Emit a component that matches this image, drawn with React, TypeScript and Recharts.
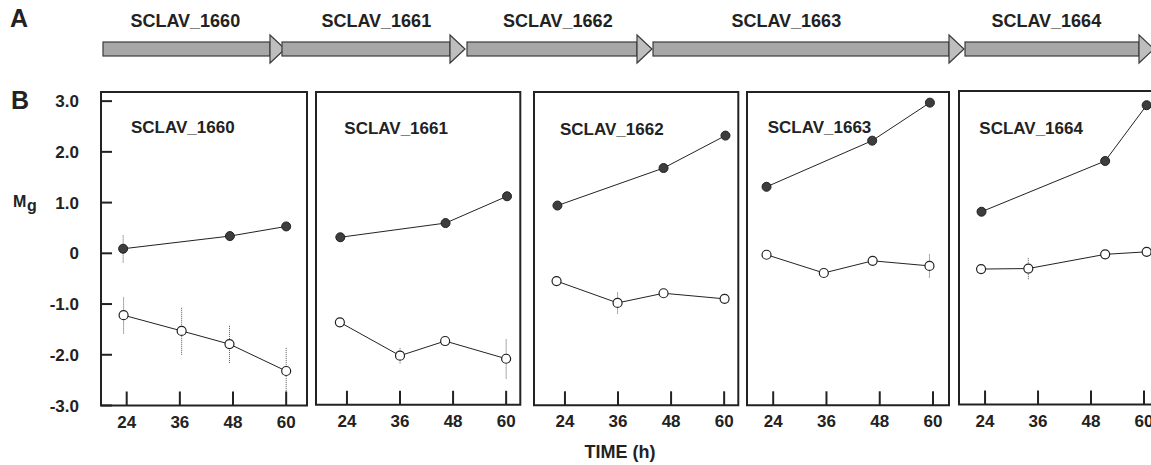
import React from 'react';
import {
  ComposedChart,
  LineChart,
  Line,
  XAxis,
  YAxis,
  ErrorBar,
  ReferenceArea,
  ReferenceLine,
} from 'recharts';

const FONT = '"Liberation Sans", Arial, Helvetica, sans-serif';
const INK = '#222';

// ---------- Panel A: gene map ----------
const geneNames = ['SCLAV_1660', 'SCLAV_1661', 'SCLAV_1662', 'SCLAV_1663', 'SCLAV_1664'];
const geneStart = [0, 1790, 3640, 5500, 8620];
const geneEnd = [1820, 3620, 5490, 8610, 10510];
const geneLabelPos = [823, 2733, 4548, 6833, 9433];

// ---------- Panel B: Mg vs time ----------
const timeTicks = [24, 36, 48, 60];
const mgTicksFull = [-3, -2, -1, 0, 1, 2, 3];
const mgTicksInner = [-2, -1, 0, 1, 2];

// filled circles
const upTime = [
  [23.2, 47.3, 60.0],
  [22.5, 46.3, 60.2],
  [22.3, 46.3, 60.3],
  [22.5, 46.3, 59.3],
  [23.2, 51.2, 60.6],
];
const upMg = [
  [0.09, 0.34, 0.53],
  [0.31, 0.59, 1.12],
  [0.94, 1.68, 2.32],
  [1.31, 2.22, 2.97],
  [0.8, 1.8, 2.9],
];
const upErr = [
  [0.27, 0, 0],
  [0, 0, 0],
  [0, 0, 0],
  [0, 0, 0],
  [0, 0, 0],
];

// open circles
const downTime = [
  [23.3, 36.4, 47.2, 60.0],
  [22.4, 36.0, 46.2, 60.0],
  [22.1, 35.9, 46.3, 60.1],
  [22.5, 35.4, 46.4, 59.2],
  [23.1, 33.8, 51.2, 60.6],
];
const downMg = [
  [-1.22, -1.53, -1.79, -2.32],
  [-1.37, -2.03, -1.74, -2.09],
  [-0.55, -0.98, -0.79, -0.9],
  [-0.03, -0.39, -0.15, -0.25],
  [-0.33, -0.32, -0.04, 0.01],
];
const downErr = [
  [0.36, 0.47, 0.37, 0.47],
  [0, 0.15, 0, 0.39],
  [0.07, 0.21, 0.06, 0.04],
  [0, 0, 0, 0.23],
  [0, 0.21, 0, 0],
];

// layout of the five frames (pixels) and their time domains
const frames = [
  { left: 101, right: 307, top: 92, bottom: 405.5, xDomain: [18.2, 64.7], yTicks: mgTicksFull, labels: true },
  { left: 315.7, right: 520, top: 91.7, bottom: 404.5, xDomain: [17.0, 63.2], yTicks: mgTicksFull, labels: false },
  { left: 534, right: 738.3, top: 91.7, bottom: 405, xDomain: [17.0, 63.2], yTicks: mgTicksInner, labels: false },
  { left: 747.3, right: 949.3, top: 91.7, bottom: 405, xDomain: [18.1, 63.6], yTicks: mgTicksInner, labels: false },
  { left: 959, right: 1163, top: 91, bottom: 404.5, xDomain: [18.1, 64.3], yTicks: mgTicksInner, labels: false },
];
const titlePos = [
  { x: 131, y: 132.5 },
  { x: 344.3, y: 133.5 },
  { x: 560, y: 134.5 },
  { x: 767.7, y: 132.5 },
  { x: 979.3, y: 133.5 },
];
const Y_DOMAIN: [number, number] = [-3, 3.18];

const fmtMg = (v: number) => (v === 0 ? '0' : v.toFixed(1));

const ArrowShape = (props: any) => {
  const { x, y, width, height } = props;
  const head = 15;
  const bodyTop = y + height * 0.25;
  const bodyH = height * 0.5;
  return (
    <g>
      <rect
        x={x}
        y={bodyTop}
        width={Math.max(0, width - head)}
        height={bodyH}
        fill="#a7a7a7"
        stroke="#3a3a3a"
        strokeWidth={1.2}
      />
      <polygon
        points={`${x + width - head},${y} ${x + width},${y + height / 2} ${x + width - head},${y + height}`}
        fill="#bebebe"
        stroke="#3a3a3a"
        strokeWidth={1.2}
      />
    </g>
  );
};

function GeneMap() {
  const data = geneNames.map((n, i) => ({ name: n, x: geneStart[i] }));
  return (
    <div style={{ position: 'absolute', left: 0, top: 0 }}>
      <ComposedChart
        width={1170}
        height={70}
        data={data}
        margin={{ top: 35, right: 7, bottom: 7, left: 103 }}
      >
        <XAxis type="number" dataKey="x" domain={[0, 10600]} allowDataOverflow hide />
        <YAxis type="number" domain={[0, 1]} allowDataOverflow hide />
        {geneNames.map((n, i) => (
          <ReferenceArea
            key={n}
            x1={geneStart[i]}
            x2={geneEnd[i]}
            y1={0}
            y2={1}
            ifOverflow="visible"
            shape={ArrowShape}
          />
        ))}
        {geneNames.map((n, i) => (
          <ReferenceLine
            key={'l' + n}
            x={geneLabelPos[i]}
            stroke="none"
            ifOverflow="visible"
            label={{
              value: n,
              position: 'top',
              offset: 8,
              fill: INK,
              fontSize: 18,
              fontWeight: 'bold',
            }}
          />
        ))}
      </ComposedChart>
    </div>
  );
}

function Panel({ i }: { i: number }) {
  const f = frames[i];
  const YW = 60;
  const MR = 10;
  const MT = 10;
  const XH = 50;
  const W = f.right - f.left + YW + MR;
  const H = f.bottom - f.top + MT + XH;
  const up = upTime[i].map((t, k) => ({ x: t, y: upMg[i][k], e: upErr[i][k] }));
  const down = downTime[i].map((t, k) => ({ x: t, y: downMg[i][k], e: downErr[i][k] }));
  return (
    <div style={{ position: 'absolute', left: f.left - YW, top: f.top - MT }}>
      <LineChart width={W} height={H} margin={{ top: MT, right: MR, bottom: 0, left: 0 }}>
        <XAxis
          type="number"
          dataKey="x"
          domain={f.xDomain}
          allowDataOverflow
          ticks={timeTicks}
          interval={0}
          height={XH}
          tickSize={-14}
          tickMargin={24}
          axisLine={false}
          tickLine={{ stroke: INK, strokeWidth: 2 }}
          tick={{ fill: INK, fontSize: 17, fontWeight: 'bold' }}
        />
        <YAxis
          type="number"
          domain={Y_DOMAIN}
          allowDataOverflow
          ticks={f.yTicks}
          interval={0}
          width={YW}
          tickSize={-11}
          tickMargin={33}
          axisLine={false}
          tickLine={{ stroke: INK, strokeWidth: 2 }}
          tickFormatter={fmtMg}
          tick={f.labels ? { fill: INK, fontSize: 17, fontWeight: 'bold' } : false}
        />
        <ReferenceArea
          x1={f.xDomain[0]}
          x2={f.xDomain[1]}
          y1={Y_DOMAIN[0]}
          y2={Y_DOMAIN[1]}
          ifOverflow="visible"
          fill="none"
          fillOpacity={0}
          stroke={INK}
          strokeWidth={2}
        />
        <Line
          data={down}
          dataKey="y"
          stroke={INK}
          strokeWidth={1}
          isAnimationActive={false}
          dot={{ r: 4.5, fill: '#fff', stroke: INK, strokeWidth: 1.2 }}
          activeDot={false}
        >
          <ErrorBar dataKey="e" direction="y" width={0} stroke="#555" strokeWidth={1} strokeDasharray="1 1" />
        </Line>
        <Line
          data={up}
          dataKey="y"
          stroke={INK}
          strokeWidth={1}
          isAnimationActive={false}
          dot={{ r: 4.5, fill: '#3d3d3d', stroke: INK, strokeWidth: 1 }}
          activeDot={false}
        >
          <ErrorBar dataKey="e" direction="y" width={0} stroke="#555" strokeWidth={1} strokeDasharray="1 1" />
        </Line>
      </LineChart>
    </div>
  );
}

export default function App() {
  return (
    <div
      style={{
        position: 'absolute',
        left: 0,
        top: 0,
        width: 1151,
        height: 465,
        overflow: 'hidden',
        background: '#fff',
        fontFamily: FONT,
      }}
    >
      <GeneMap />
      {frames.map((_, i) => (
        <Panel key={i} i={i} />
      ))}
      <svg
        width={1151}
        height={465}
        style={{ position: 'absolute', left: 0, top: 0, pointerEvents: 'none' }}
      >
        <g fill={INK} fontFamily={FONT} fontWeight="bold">
          <text x={10} y={26.7} fontSize={25}>A</text>
          <text x={11} y={109.3} fontSize={25}>B</text>
          <text x={13} y={206.7} fontSize={16}>M</text>
          <text x={27} y={211} fontSize={16}>g</text>
          <text x={620} y={457.5} fontSize={18} textAnchor="middle">TIME (h)</text>
          {geneNames.map((n, i) => (
            <text key={n} x={titlePos[i].x} y={titlePos[i].y} fontSize={17}>
              {n}
            </text>
          ))}
        </g>
      </svg>
    </div>
  );
}
